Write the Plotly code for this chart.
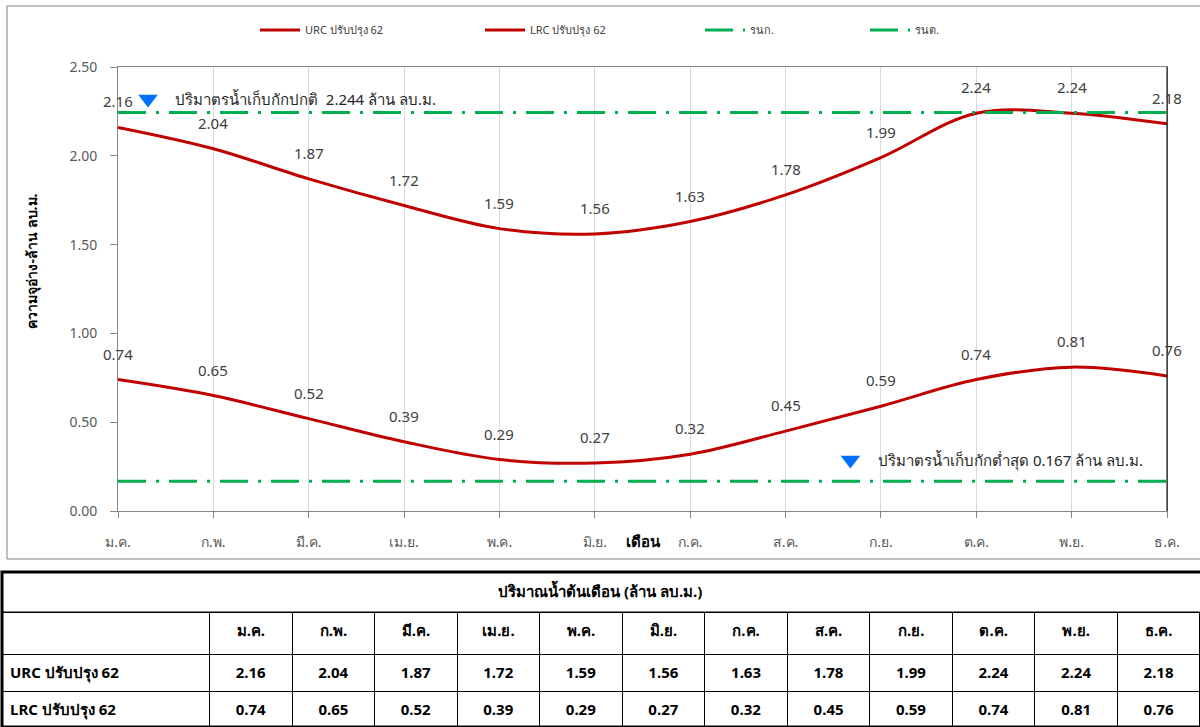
import plotly.graph_objects as go

months = ["ม.ค.", "ก.พ.", "มี.ค.", "เม.ย.", "พ.ค.", "มิ.ย.", "ก.ค.", "ส.ค.", "ก.ย.", "ต.ค.", "พ.ย.", "ธ.ค."]
urc = [2.16, 2.04, 1.87, 1.72, 1.59, 1.56, 1.63, 1.78, 1.99, 2.24, 2.24, 2.18]
lrc = [0.74, 0.65, 0.52, 0.39, 0.29, 0.27, 0.32, 0.45, 0.59, 0.74, 0.81, 0.76]
normal_level = 2.244
min_level = 0.167
series_names = ["URC ปรับปรุง 62", "LRC ปรับปรุง 62", "รนก.", "รนต."]
normal_text = "ปริมาตรน้ำเก็บกักปกติ  2.244 ล้าน ลบ.ม."
min_text = "ปริมาตรน้ำเก็บกักต่ำสุด 0.167 ล้าน ลบ.ม."
table_title = "ปริมาณน้ำต้นเดือน (ล้าน ลบ.ม.)"
y_title = "ความจุอ่าง-ล้าน ลบ.ม."
x_title = "เดือน"
marker_pos = [(0.315, 2.32), (7.68, 0.287)]

FONT = "Tahoma, 'Noto Sans', 'DejaVu Sans', sans-serif"
W, H = 1200, 727
def px(x):
    return x / W
def py(y):
    return 1 - y / H

xs = list(range(len(months)))
RED = "#C00000"
GREEN = "#00B050"
DASH = "28px,10px,3px,10px"

fig = go.Figure()
fig.add_trace(go.Scatter(x=xs, y=urc, mode="lines", line=dict(color=RED, width=3, shape="spline"),
                         name=series_names[0], legend="legend"))
fig.add_trace(go.Scatter(x=xs, y=lrc, mode="lines", line=dict(color=RED, width=3, shape="spline"),
                         name=series_names[1], legend="legend2"))
fig.add_trace(go.Scatter(x=[xs[0], xs[-1]], y=[normal_level] * 2, mode="lines",
                         line=dict(color=GREEN, width=3, dash=DASH), name=series_names[2], legend="legend3"))
fig.add_trace(go.Scatter(x=[xs[0], xs[-1]], y=[min_level] * 2, mode="lines",
                         line=dict(color=GREEN, width=3, dash=DASH), name=series_names[3], legend="legend4"))
fig.add_trace(go.Scatter(x=[p[0] for p in marker_pos], y=[p[1] for p in marker_pos], mode="markers",
                         marker=dict(symbol="triangle-down", size=17, color="#0070FF"), showlegend=False,
                         hoverinfo="skip"))

ann = []
for vals in (urc, lrc):
    for i, v in enumerate(vals):
        ann.append(dict(x=xs[i], y=v, text=f"{v:.2f}", showarrow=False, yshift=26,
                        font=dict(family=FONT, size=15, color="#404040")))
ann.append(dict(x=0.577, y=marker_pos[0][1], text=normal_text, showarrow=False, xanchor="left",
                font=dict(family=FONT, size=15, color="#262626")))
ann.append(dict(x=7.95, y=marker_pos[1][1], text=min_text, showarrow=False, xanchor="left",
                font=dict(family=FONT, size=15, color="#262626")))
ann.append(dict(xref="paper", yref="paper", x=px(643), y=py(553), text=f"<b>{x_title}</b>", showarrow=False,
                font=dict(family=FONT, size=15, color="#000000")))
ann.append(dict(xref="paper", yref="paper", x=px(19), y=py(261), text=f"<b>{y_title}</b>", showarrow=False,
                textangle=-90, font=dict(family=FONT, size=14, color="#000000")))
ann.append(dict(xref="paper", yref="paper", x=0.5, y=py(603), text=f"<b>{table_title}</b>", showarrow=False,
                font=dict(family=FONT, size=15, color="#000000")))

shapes = [
    dict(type="rect", xref="paper", yref="paper", x0=px(7), x1=1.02, y0=py(559), y1=py(6),
         line=dict(color="#7F7F7F", width=1)),
    dict(type="line", xref="paper", yref="paper", x0=px(1167), x1=px(1167), y0=py(511), y1=py(67),
         line=dict(color="#000000", width=1)),
    dict(type="rect", xref="paper", yref="paper", x0=px(2), x1=1.02, y0=py(727), y1=py(572),
         line=dict(color="#000000", width=3)),
    dict(type="line", xref="paper", yref="paper", x0=px(2), x1=1.0, y0=py(612), y1=py(612),
         line=dict(color="#000000", width=1)),
]

b = lambda s: f"<b>{s}</b>"
header_vals = [""] + [b(m) for m in months]
cell_vals = [[b(series_names[0]), b(series_names[1])]] + [[b(f"{u:.2f}"), b(f"{l:.2f}")] for u, l in zip(urc, lrc)]
fig.add_trace(go.Table(
    domain=dict(x=[px(2), 1.0], y=[0, py(612)]),
    columnwidth=[208] + [82.7] * 12,
    header=dict(values=header_vals, height=42, align="center", fill_color="white",
                line=dict(color="black", width=1), font=dict(family=FONT, size=15, color="black")),
    cells=dict(values=cell_vals, height=36.5, align=["left"] + ["center"] * 12, fill_color="white",
               line=dict(color="black", width=1), font=dict(family=FONT, size=15, color="black")),
))

legend_common = dict(orientation="h", yanchor="middle", y=py(30), xanchor="left", bgcolor="rgba(0,0,0,0)",
                     font=dict(family=FONT, size=11, color="#404040"), itemwidth=40)
fig.update_layout(
    width=W, height=H, margin=dict(l=0, r=0, t=0, b=0, autoexpand=False),
    paper_bgcolor="white", plot_bgcolor="white",
    showlegend=True,
    legend=dict(legend_common, x=px(255)),
    legend2=dict(legend_common, x=px(480)),
    legend3=dict(legend_common, x=px(700)),
    legend4=dict(legend_common, x=px(865)),
    xaxis=dict(domain=[px(118), px(1167)], range=[0, 11], tickvals=xs, ticktext=months, automargin=False,
               showgrid=True, gridcolor="#D9D9D9", gridwidth=1, zeroline=False,
               showline=True, linecolor="#868686", mirror=True, ticks="outside", ticklen=6,
               tickcolor="#868686", ticklabelstandoff=12,
               tickfont=dict(family=FONT, size=14, color="#595959")),
    yaxis=dict(domain=[py(511), py(67)], range=[0, 2.5], tickvals=[0, 0.5, 1.0, 1.5, 2.0, 2.5], automargin=False,
               tickformat=".2f", showgrid=False, zeroline=False,
               showline=True, linecolor="#868686", mirror=True, ticks="outside", ticklen=7,
               tickcolor="#868686", ticklabelstandoff=10,
               tickfont=dict(family=FONT, size=14, color="#595959")),
    annotations=ann, shapes=shapes,
)

fig.write_html("out.html", config={"displayModeBar": False},
               post_script="document.body.style.margin='0';")
